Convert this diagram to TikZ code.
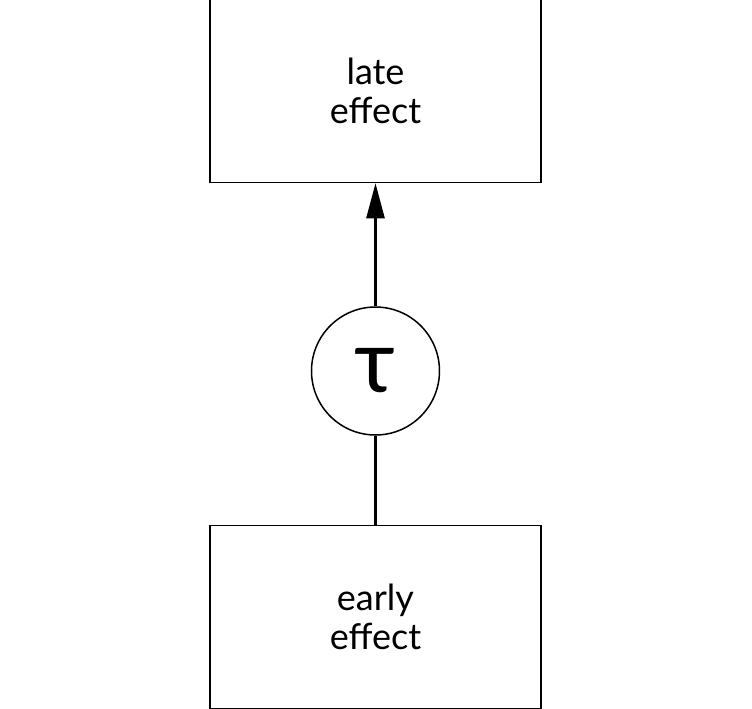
\documentclass[tikz,border=0pt]{standalone}
\usepackage{fontspec}
\setmainfont{Lato}
\usetikzlibrary{arrows.meta,positioning}

\begin{document}
\begin{tikzpicture}[
  effectbox/.style={draw, line width=0.75pt, minimum width=165.5pt, minimum height=91.5pt,
                    align=center, font=\fontsize{18}{19.5}\selectfont, inner sep=0pt},
  delaynode/.style={draw, circle, line width=0.75pt, minimum size=64pt, inner sep=0pt,
                    font=\fontsize{44}{44}\selectfont},
  link/.style={line width=1.25pt}
]
  \useasboundingbox (-187.75pt,-169pt) rectangle (188.25pt,185.5pt);
  \node[delaynode] (tau) at (0,0) {τ};
  \node[effectbox, above=61.5pt of tau] (late) {late\\effect};
  \node[effectbox, below=44.5pt of tau] (early) {early\\effect};
  \draw[link, -{Triangle[length=17.5pt,width=9pt]}] (tau) -- (late);
  \draw[link] (early) -- (tau);
\end{tikzpicture}
\end{document}
